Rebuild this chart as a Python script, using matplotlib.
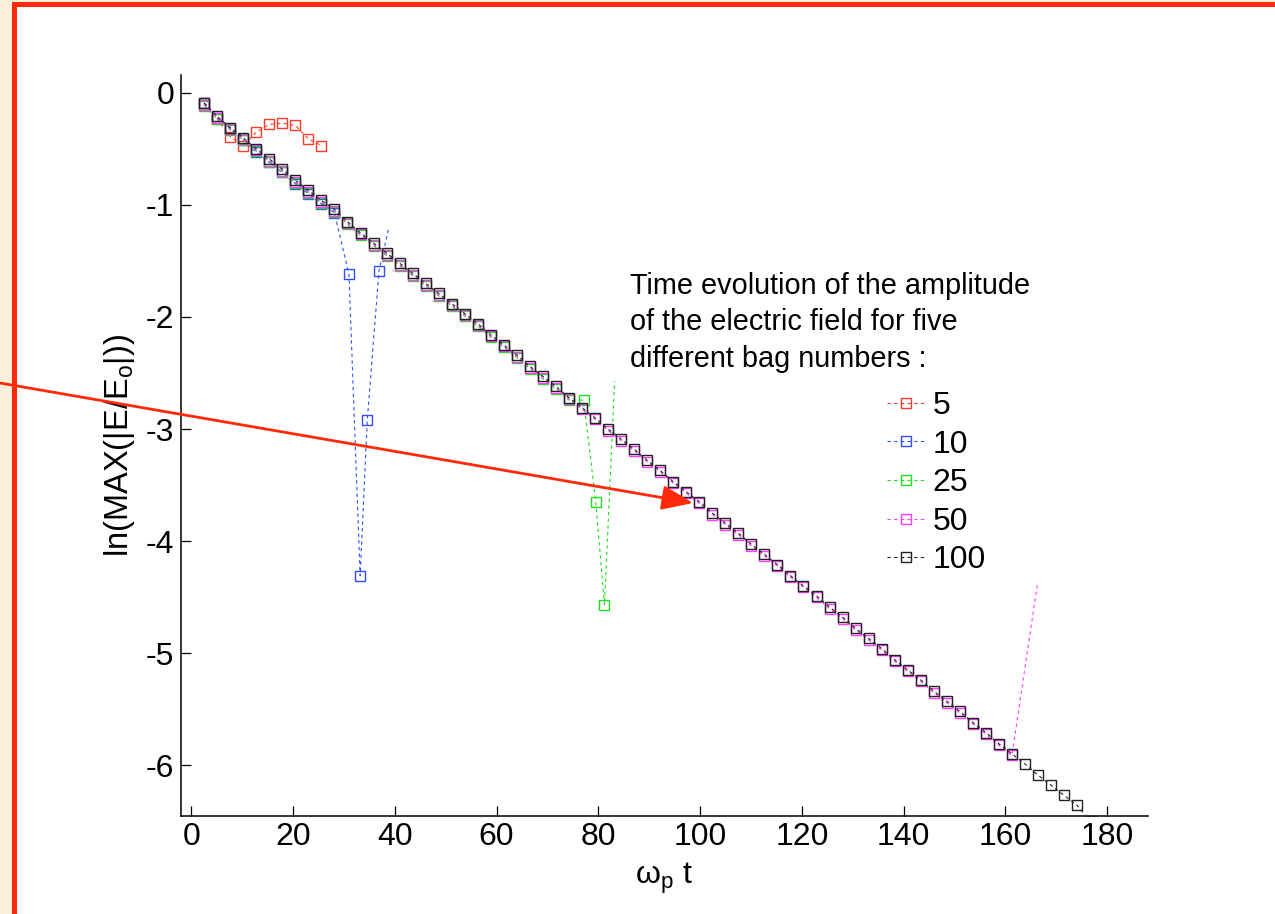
import matplotlib
matplotlib.use("Agg")
import matplotlib.pyplot as plt
from matplotlib.patches import Rectangle, FancyArrowPatch
from matplotlib.transforms import ScaledTranslation

plt.rcParams['font.family'] = ['Liberation Sans', 'DejaVu Sans']
plt.rcParams['mathtext.default'] = 'regular'

# ---------------- data ----------------
t_100 = [2.55, 5.11, 7.67, 10.23, 12.79, 15.35, 17.91, 20.47, 23.03, 25.59,
         28.15, 30.71, 33.27, 35.83, 38.39, 40.95, 43.51, 46.07, 48.63, 51.19,
         53.75, 56.31, 58.87, 61.43, 63.99, 66.55, 69.11, 71.67, 74.23, 76.79,
         79.35, 81.91, 84.47, 87.03, 89.59, 92.15, 94.71, 97.27, 99.83, 102.39,
         104.95, 107.51, 110.07, 112.63, 115.19, 117.75, 120.31, 122.87, 125.43, 127.99,
         130.55, 133.11, 135.67, 138.23, 140.79, 143.35, 145.91, 148.47, 151.03, 153.59,
         156.15, 158.71, 161.27, 163.83, 166.39, 168.95, 171.51, 174.07, 176.63]
y_100 = [-0.09, -0.21, -0.31, -0.40, -0.50, -0.59, -0.68, -0.78, -0.87, -0.96,
         -1.04, -1.15, -1.25, -1.34, -1.43, -1.52, -1.61, -1.70, -1.79, -1.88,
         -1.97, -2.06, -2.16, -2.25, -2.34, -2.44, -2.53, -2.62, -2.72, -2.81,
         -2.90, -3.00, -3.09, -3.18, -3.28, -3.37, -3.47, -3.56, -3.65, -3.75,
         -3.84, -3.93, -4.03, -4.12, -4.21, -4.31, -4.40, -4.49, -4.59, -4.68,
         -4.78, -4.87, -4.96, -5.06, -5.15, -5.24, -5.34, -5.43, -5.52, -5.62,
         -5.71, -5.81, -5.90, -5.99, -6.09, -6.18, -6.27, -6.36, -6.50]

t_5 = [2.55, 5.11, 7.67, 10.23, 12.79, 15.35, 17.91, 20.47, 23.03, 25.59]
y_5 = [-0.09, -0.23, -0.39, -0.47, -0.35, -0.28, -0.27, -0.29, -0.41, -0.47]

t_10 = [2.55, 5.11, 7.67, 10.23, 12.79, 15.35, 17.91, 20.47, 23.03, 25.59,
        28.15, 31.0, 33.2, 34.6, 36.9, 38.8]
y_10 = [-0.09, -0.22, -0.32, -0.42, -0.53, -0.62, -0.71, -0.81, -0.90, -0.99,
        -1.07, -1.62, -4.31, -2.92, -1.59, -1.21]

# 25 and 50 follow the 100 curve, then break away
t_25_tail = [77.1, 79.5, 81.2, 83.2]
y_25_tail = [-2.72, -3.63, -4.55, -2.55]
n_25 = 29
t_50_tail = [166.3]
y_50_tail = [-4.36]
n_50 = 63

labels = ['5', '10', '25', '50', '100']
colors = ['#ff3a28', '#2f4cff', '#1fe01f', '#ff3cff', '#222222']

x_ticks = [0, 20, 40, 60, 80, 100, 120, 140, 160, 180]
y_ticks = [0, -1, -2, -3, -4, -5, -6]

# ---------------- figure ----------------
W, H = 1275, 914
fig = plt.figure(figsize=(W / 100, H / 100), dpi=100)
fig.patch.set_facecolor('white')

def fr(x0, y0, w, h, c, z=0):
    fig.patches.append(Rectangle((x0 / W, 1 - (y0 + h) / H), w / W, h / H,
                                 transform=fig.transFigure, facecolor=c,
                                 edgecolor='none', zorder=z))

beige = '#fbeedb'
fr(0, 0, 12, H, beige)
fr(0, 0, W, 2, beige)
fr(12, 2, 5, H - 2, '#ff2a0a', 1)
fr(12, 2, W - 12, 5, '#ff2a0a', 1)

ax = fig.add_axes([181 / W, 1 - 815.5 / H, (1148 - 181) / W, (815.5 - 75) / H])
ax.set_facecolor('none')

dash = (0, (3, 3))
common = dict(linestyle=dash, linewidth=0.8, marker='s', markersize=6.8,
              markerfacecolor='none', markeredgewidth=1.0)

t_25 = t_100[:n_25] + t_25_tail
y_25 = y_100[:n_25] + y_25_tail
t_50 = t_100[:n_50] + t_50_tail
y_50 = y_100[:n_50] + y_50_tail

series = [(t_5, y_5, 0), (t_10, y_10, 0), (t_25, y_25, 2.5), (t_50, y_50, 1.5),
          (t_100, y_100, 0)]
for i, (t, y, off) in enumerate(series):
    tr = ax.transData + ScaledTranslation(0, -off / 100, fig.dpi_scale_trans)
    n = len(t)
    mk = list(range(n - 1)) if i in (1, 2, 3) else list(range(n))
    ax.plot(t, y, color=colors[i], label=labels[i], markevery=mk,
            transform=tr, zorder=2 + i, **common)

ax.set_xlim(-2, 188)
ax.set_ylim(-6.45, 0.16)
ax.set_xticks(x_ticks)
ax.set_yticks(y_ticks)
ax.set_yticklabels([str(v) for v in y_ticks])
for s in ['top', 'right']:
    ax.spines[s].set_visible(False)
for s in ['left', 'bottom']:
    ax.spines[s].set_linewidth(1.1)
ax.tick_params(direction='in', length=7, width=0.9, labelsize=23, pad=5)

ax.set_ylabel('ln(MAX(|E/E$_{o}$|))', fontsize=23.5, labelpad=6)
ax.set_xlabel('ω$_{p}$ t', fontsize=23, labelpad=6)

leg = ax.legend(loc='upper left', bbox_to_anchor=(887 / W, 1 - 391 / H),
                bbox_transform=fig.transFigure, frameon=False, fontsize=23,
                handlelength=1.2, handletextpad=0.22, labelspacing=0.27,
                borderpad=0, borderaxespad=0, numpoints=1)

fig.text(630 / W, 1 - 272 / H,
         'Time evolution of the amplitude\nof the electric field for five\ndifferent bag numbers :',
         fontsize=20.8, va='top', ha='left', linespacing=1.38)

arrow = FancyArrowPatch((0 / 100, (H - 383) / 100), (693 / 100, (H - 503) / 100),
                        transform=fig.dpi_scale_trans,
                        arrowstyle='-|>,head_length=1.9,head_width=0.75',
                        mutation_scale=10, linewidth=2.0, color='#ff2a0a',
                        shrinkA=0, shrinkB=0, zorder=10)
fig.add_artist(arrow)

fig.savefig('out.png', dpi=100, facecolor=fig.get_facecolor())
